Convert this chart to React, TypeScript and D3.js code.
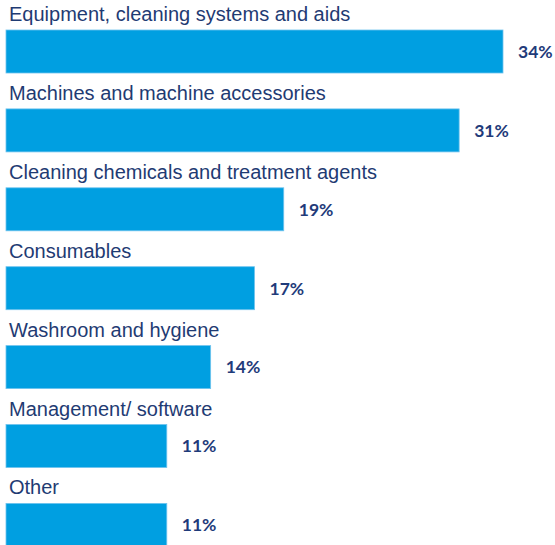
import React from "react";
import * as d3 from "d3";

const categories = [
  "Equipment, cleaning systems and aids",
  "Machines and machine accessories",
  "Cleaning chemicals and treatment agents",
  "Consumables",
  "Washroom and hygiene",
  "Management/ software",
  "Other",
];
const values = [34, 31, 19, 17, 14, 11, 11];

const W = 555;
const H = 545;

export default function App() {
  const step = 78.9;
  const barH = 43;
  const top0 = 30;
  const n = categories.length;
  const x = d3.scaleLinear().domain([0, 34]).range([6, 503]);
  const y = d3
    .scaleBand<string>()
    .domain(categories)
    .range([top0, top0 + step * (n - 1) + barH])
    .paddingInner((step - barH) / step)
    .paddingOuter(0);
  return (
    <svg
      width={W}
      height={H}
      style={{ position: "absolute", left: 0, top: 0, background: "#fff" }}
    >
      {categories.map((c, i) => {
        const yb = y(c) as number;
        const bh = y.bandwidth();
        return (
          <g key={c}>
            <text
              x={9}
              y={yb - 9}
              fontFamily="'Liberation Sans', Arial, sans-serif"
              fontSize={20}
              fill="#1F3B73"
            >
              {c}
            </text>
            <rect
              x={x(0)}
              y={yb}
              width={x(values[i]) - x(0)}
              height={bh}
              fill="#009FE1"
              stroke="#6FC3EE"
              strokeWidth={0.8}
            />
            <text
              x={x(values[i]) + 15}
              y={yb + bh / 2}
              dy="0.36em"
              fontFamily="Lato, 'Open Sans', sans-serif"
              fontWeight={700}
              fontSize={17.5}
              fill="#1F3B7A"
            >
              {values[i]}%
            </text>
          </g>
        );
      })}
    </svg>
  );
}
